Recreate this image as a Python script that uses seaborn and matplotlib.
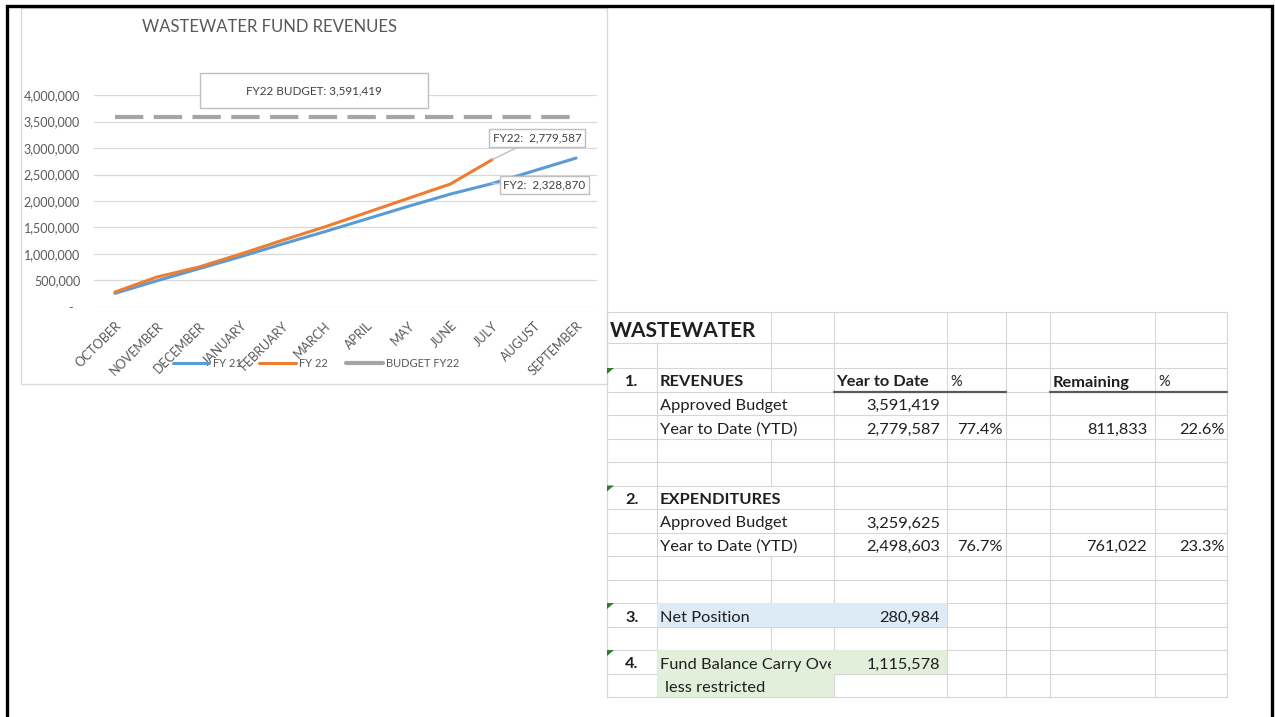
import pandas as pd
import matplotlib.pyplot as plt
import seaborn as sns
from matplotlib.patches import Rectangle, Polygon
from matplotlib.lines import Line2D

# ---- chart data ----
months = ["OCTOBER", "NOVEMBER", "DECEMBER", "JANUARY", "FEBRUARY", "MARCH",
          "APRIL", "MAY", "JUNE", "JULY", "AUGUST", "SEPTEMBER"]
fy21 = [257000, 495000, 722000, 950000, 1190000, 1420000,
        1660000, 1900000, 2130000, 2328870, 2570000, 2810000]
fy22 = [282000, 565000, 753000, 1000000, 1260000, 1510000,
        1780000, 2050000, 2320000, 2779587]
budget_fy22 = 3591419
y_ticks = [0, 500000, 1000000, 1500000, 2000000, 2500000, 3000000, 3500000, 4000000]

# ---- table data ----
table_title = "WASTEWATER"
section_nums = ["1.", "2.", "3.", "4."]
section_titles = ["REVENUES", "EXPENDITURES", "Net Position", "Fund Balance Carry Over"]
header_cols = ["Year to Date", "%", "Remaining", "%"]
rev_budget, rev_ytd, rev_pct, rev_rem, rev_rem_pct = 3591419, 2779587, 77.4, 811833, 22.6
exp_budget, exp_ytd, exp_pct, exp_rem, exp_rem_pct = 3259625, 2498603, 76.7, 761022, 23.3
net_position = 280984
fund_balance = 1115578

W, H = 1275, 717
BLUE, ORANGE, GRAY = "#5B9BD5", "#ED7D31", "#A5A5A5"
TXT = "#595959"

sns.set_theme(style="white")
plt.rcParams["font.family"] = ["Lato", "DejaVu Sans"]

fig = plt.figure(figsize=(W / 100, H / 100), dpi=100)


def fr(x, y):
    """pixel (top-left origin) -> figure fraction"""
    return x / W, 1 - y / H


# background layer: frame, chart panel, spreadsheet
bg = fig.add_axes([0, 0, 1, 1], zorder=0)
bg.set_xlim(0, W)
bg.set_ylim(H, 0)
bg.axis("off")

bg.plot([7, 7, 1272, 1272], [H, 6, 6, H], color="black", lw=2.4, solid_joinstyle="miter")
bg.add_patch(Rectangle((21, 8), 586, 376, fill=False, ec="#D9D9D9", lw=1))

# ---- chart ----
ax_left, ax_right, ax_top, ax_bot = 94, 597, 95, 307
l, b = fr(ax_left, ax_bot)
ax = fig.add_axes([l, b, (ax_right - ax_left) / W, (ax_bot - ax_top) / H], zorder=2)
ax.set_facecolor("none")

df21 = pd.DataFrame({"pos": range(len(fy21)), "value": fy21})
df22 = pd.DataFrame({"pos": range(len(fy22)), "value": fy22})
dfb = pd.DataFrame({"pos": range(len(months)), "value": [budget_fy22] * len(months)})

sns.lineplot(data=dfb, x="pos", y="value", color=GRAY, lw=3, ax=ax)
ax.lines[-1].set_linestyle((0, (6.8, 2.5)))
sns.lineplot(data=df21, x="pos", y="value", color=BLUE, lw=2.2, ax=ax)
sns.lineplot(data=df22, x="pos", y="value", color=ORANGE, lw=2.2, ax=ax)
for ln in ax.lines:
    ln.set_solid_capstyle("round")

ax.set_xlim(-0.5, len(months) - 0.5)
ax.set_ylim(0, 4000000)
ax.set_xticks(range(len(months)))
ax.set_xticklabels(months, rotation=45, ha="right", rotation_mode="anchor",
                   fontsize=9, color=TXT)
ax.set_yticks(y_ticks)
ax.set_yticklabels(["-  " if v == 0 else f"{v:,.0f}" for v in y_ticks],
                   fontsize=9, color=TXT)
ax.tick_params(axis="x", pad=9, length=0)
ax.tick_params(axis="y", pad=10, length=0)
ax.set_xlabel("")
ax.set_ylabel("")
ax.yaxis.grid(True, color="#D9D9D9", lw=0.9)
ax.xaxis.grid(False)
ax.set_axisbelow(True)
sns.despine(ax=ax, left=True, bottom=True)

fig.text(*fr(270, 27), "WASTEWATER FUND REVENUES", ha="center", va="center",
         fontsize=12, color=TXT)

# budget label box
bx, by = fr(200, 108)
ax.add_patch(Rectangle((bx, by), 228 / W, 35 / H, transform=fig.transFigure,
                       fc="white", ec="#BFBFBF", lw=1, clip_on=False, zorder=5))
fig.text(*fr(314, 91), f"FY22 BUDGET: {budget_fy22:,}", ha="center", va="center",
         fontsize=8.4, color="#404040", zorder=6)

lab_box = dict(boxstyle="square,pad=0.3", fc="white", ec="#BFBFBF", lw=1)
ax.annotate(f"FY22:  {fy22[-1]:,}", xy=(len(fy22) - 1, fy22[-1]), xytext=(45, 22),
            textcoords="offset pixels", ha="center", va="center", fontsize=8.4,
            color="#404040", bbox=lab_box,
            arrowprops=dict(arrowstyle="-", color="#BFBFBF", lw=1, shrinkA=0, shrinkB=0))
ax.annotate(f"FY2:  {fy21[9]:,}", xy=(9, fy21[9]), xytext=(52, -1),
            textcoords="offset pixels", ha="center", va="center", fontsize=8.4,
            color="#404040", bbox=lab_box,
            arrowprops=dict(arrowstyle="-", color="#BFBFBF", lw=1, shrinkA=0, shrinkB=0))

handles = [Line2D([], [], color=BLUE, lw=2.2),
           Line2D([], [], color=ORANGE, lw=2.2),
           Line2D([], [], color=GRAY, lw=3)]
fig.legend(handles, ["FY 21", "FY 22", "BUDGET FY22"], loc="center",
           bbox_to_anchor=fr(316, 363), ncol=3, frameon=False, fontsize=8,
           handlelength=3.3, handletextpad=0.3, columnspacing=1.6, labelcolor=TXT)

# ---- spreadsheet ----
col_x = [607, 657, 771, 834, 947, 1006, 1050, 1155, 1227]
row_y = [312, 343, 368] + [368 + 23.5 * i for i in range(1, 15)]
GRID = "#D6D6D6"
DARK = "#1F1F1F"
hidden = {(0, 1), (3, 2), (4, 2), (7, 2), (8, 2), (9, 2)}

for y in row_y:
    bg.plot([col_x[0], col_x[-1]], [y, y], color=GRID, lw=0.8)
for r in range(len(row_y) - 1):
    for c, x in enumerate(col_x):
        if (r, c) in hidden:
            continue
        bg.plot([x, x], [row_y[r], row_y[r + 1]], color=GRID, lw=0.8)

# fills
bg.add_patch(Rectangle((col_x[1], row_y[12]), col_x[4] - col_x[1], row_y[13] - row_y[12],
                       fc="#DDEBF7", ec="none", zorder=3))
bg.add_patch(Rectangle((col_x[1], row_y[14]), col_x[4] - col_x[1], row_y[15] - row_y[14],
                       fc="#E2EFDA", ec="none", zorder=3))
bg.add_patch(Rectangle((col_x[1], row_y[15]), col_x[3] - col_x[1], row_y[16] - row_y[15],
                       fc="#E2EFDA", ec="none", zorder=3))

# header underline
for x0, x1 in [(col_x[3], col_x[5]), (col_x[6], col_x[8])]:
    bg.plot([x0, x1], [row_y[3], row_y[3]], color="#595959", lw=1.6, zorder=4)

# green error-corner triangles
for r in [2, 7, 12, 14]:
    y0 = row_y[r]
    bg.add_patch(Polygon([(607, y0), (614, y0), (607, y0 + 6)], closed=True,
                         fc="#2E7D32", ec="none", zorder=5))

FS = 11.8


def cell(r, x, s, ha="left", bold=False, size=FS, clip=None):
    t = bg.text(x, row_y[r + 1] - 5, s, ha=ha, va="baseline", fontsize=size,
                fontweight="bold" if bold else "normal", color=DARK, zorder=6)
    if clip is not None:
        t.set_clip_on(True)
        t.set_clip_path(Rectangle(clip[0], clip[1], clip[2], transform=bg.transData))
    return t


bg.text(610, 337, table_title, ha="left", va="baseline", fontsize=15,
        fontweight="bold", color=DARK, zorder=6)

num_x = 632
for r, n in zip([2, 7, 12, 14], section_nums):
    cell(r, num_x, n, ha="center", bold=True)
cell(2, 660, section_titles[0], bold=True)
cell(7, 660, section_titles[1], bold=True)
cell(12, 660, section_titles[2])
cell(14, 660, section_titles[3],
     clip=((col_x[1], row_y[14]), col_x[3] - col_x[1] - 3, row_y[15] - row_y[14]))
cell(15, 665, "less restricted")

cell(2, 836, header_cols[0], bold=True)
cell(2, 950, header_cols[1], size=10.5)
cell(2, 1053, header_cols[2], bold=True)
cell(2, 1158, header_cols[3], size=10.5)

for r0, (bud, ytd, pct, rem, rpct) in zip(
        [3, 8], [(rev_budget, rev_ytd, rev_pct, rev_rem, rev_rem_pct),
                 (exp_budget, exp_ytd, exp_pct, exp_rem, exp_rem_pct)]):
    cell(r0, 660, "Approved Budget")
    cell(r0, 940, f"{bud:,}", ha="right")
    cell(r0 + 1, 660, "Year to Date (YTD)")
    cell(r0 + 1, 940, f"{ytd:,}", ha="right")
    cell(r0 + 1, 1003, f"{pct:.1f}%", ha="right")
    cell(r0 + 1, 1147, f"{rem:,}", ha="right")
    cell(r0 + 1, 1225, f"{rpct:.1f}%", ha="right")

cell(12, 940, f"{net_position:,}", ha="right")
cell(14, 940, f"{fund_balance:,}", ha="right")

fig.savefig("out.png", dpi=100)
